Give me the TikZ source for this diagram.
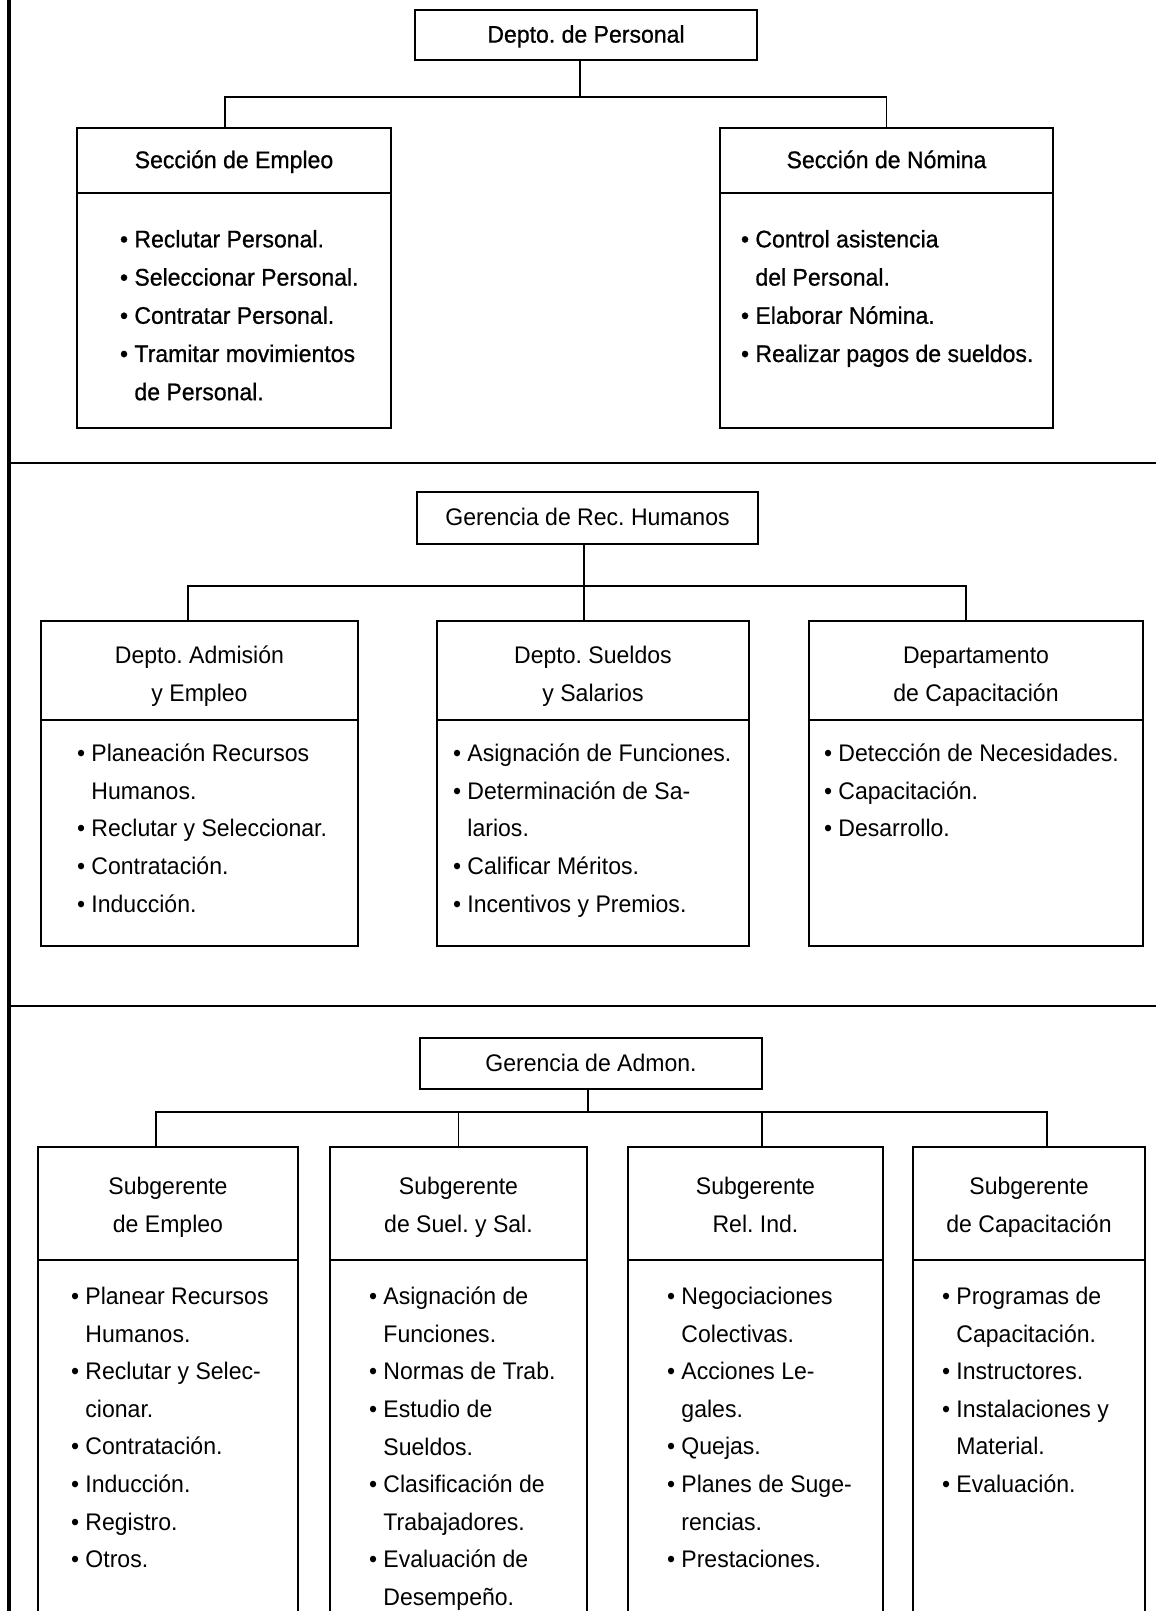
\documentclass[tikz,border=0pt]{standalone}
\usepackage{fontspec}
\setmainfont{Liberation Sans}[FakeStretch=0.96]
\newfontfamily\darkfont{Liberation Sans}[FakeStretch=0.96,FakeBold=0.8]
\usetikzlibrary{positioning}
\newcommand{\bul}{\textbullet\ }
\newcommand{\ind}{\hphantom{\textbullet\ }}
\newcommand{\twoline}[3]{\rule{0pt}{#1}#2\\#3\strut}
\frenchspacing

\begin{document}
\begin{tikzpicture}[x=0.5pt,y=-0.5pt,outer sep=0pt,
	head node/.style={draw,line width=1.2pt,align=center,inner sep=0pt,font=\fontsize{12}{18.8}\selectfont},
	body node/.style={draw,line width=1.2pt,inner sep=0pt},
	list node/.style={anchor=north west,align=left,inner sep=0pt,font=\fontsize{12}{18.8}\selectfont},
	dark/.style={font=\darkfont\fontsize{12}{19.1}\selectfont},
	link/.style={line width=0.7pt},
	rule/.style={line width=1.3pt}]
	\clip (0,0) rectangle (1156,1611);
	% frame
	\draw[rule,line width=2pt] (9,0) -- (9,1611);
	\draw[rule] (9,463) -- (1156,463);
	\draw[rule] (9,1006) -- (1156,1006);

	% Depto. de Personal
	\node[head node,dark,minimum width=171pt,minimum height=25pt] (dp) at (586,35) {\strut Depto. de Personal};
	\node[head node,dark,minimum width=157pt,minimum height=32.5pt] (se) at (234,160.5) {\strut Secci\'on de Empleo};
	\node[body node,minimum width=157pt,minimum height=117.5pt,below=0pt of se] (seb) {};
	\node[list node,dark] (sel) at ([shift={(43,37)}]seb.north west) {\bul Reclutar Personal.\\
		\bul Seleccionar Personal.\\
		\bul Contratar Personal.\\
		\bul Tramitar movimientos\\
		\ind de Personal.};
	\node[head node,dark,minimum width=166.5pt,minimum height=32.5pt] (sn) at (886.5,160.5) {\strut Secci\'on de N\'omina};
	\node[body node,minimum width=166.5pt,minimum height=117.5pt,below=0pt of sn] (snb) {};
	\node[list node,dark] (snl) at ([shift={(21,37)}]snb.north west) {\bul Control asistencia\\
		\ind del Personal.\\
		\bul Elaborar N\'omina.\\
		\bul Realizar pagos de sueldos.};
	\draw[link] ([xshift=-3pt]dp.south) -- ++(0,37) -| (sn.north);
	\draw[link] ([xshift=-3pt]dp.south) ++(0,37) -| ([xshift=-4.5pt]se.north);

	% Gerencia de Rec. Humanos
	\node[head node,minimum width=170.5pt,minimum height=26pt] (grh) at (587.5,518) {\strut Gerencia de Rec. Humanos};
	\node[head node,minimum width=158.5pt,minimum height=49.5pt] (da) at (199.5,670.5) {\twoline{17.4pt}{Depto. Admisi\'on}{y Empleo}};
	\node[body node,minimum width=158.5pt,minimum height=113pt,below=0pt of da] (dab) {};
	\node[list node] (dal) at ([shift={(36,24)}]dab.north west) {\bul Planeaci\'on Recursos\\
		\ind Humanos.\\
		\bul Reclutar y Seleccionar.\\
		\bul Contrataci\'on.\\
		\bul Inducci\'on.};
	\node[head node,minimum width=156pt,minimum height=49.5pt] (ds) at (593,670.5) {\twoline{17.4pt}{Depto. Sueldos}{y Salarios}};
	\node[body node,minimum width=156pt,minimum height=113pt,below=0pt of ds] (dsb) {};
	\node[list node] (dsl) at ([shift={(16,24)}]dsb.north west) {\bul Asignaci\'on de Funciones.\\
		\bul Determinaci\'on de Sa-\\
		\ind larios.\\
		\bul Calificar M\'eritos.\\
		\bul Incentivos y Premios.};
	\node[head node,minimum width=167pt,minimum height=49.5pt] (dc) at (976,670.5) {\twoline{17.4pt}{Departamento}{de Capacitaci\'on}};
	\node[body node,minimum width=167pt,minimum height=113pt,below=0pt of dc] (dcb) {};
	\node[list node] (dcl) at ([shift={(15,24)}]dcb.north west) {\bul Detecci\'on de Necesidades.\\
		\bul Capacitaci\'on.\\
		\bul Desarrollo.};
	\draw[link] ([xshift=-1.75pt]grh.south) -- ++(0,42) -| ([xshift=-5pt]dc.north);
	\draw[link] ([xshift=-1.75pt]grh.south) ++(0,42) -| ([xshift=-5.75pt]da.north);
	\draw[link] ([xshift=-1.75pt]grh.south) ++(0,42) -| ([xshift=-4.5pt]ds.north);

	% Gerencia de Admon.
	\node[head node,minimum width=171pt,minimum height=25.5pt] (ga) at (591,1063.5) {\strut Gerencia de Admon.};
	\node[head node,minimum width=130pt,minimum height=56.5pt] (s1) at (168,1203.5) {\twoline{15.8pt}{Subgerente}{de Empleo}};
	\node[body node,minimum width=130pt,minimum height=180pt,below=0pt of s1] (s1b) {};
	\node[list node] (s1l) at ([shift={(33,27)}]s1b.north west) {\bul Planear Recursos\\
		\ind Humanos.\\
		\bul Reclutar y Selec-\\
		\ind cionar.\\
		\bul Contrataci\'on.\\
		\bul Inducci\'on.\\
		\bul Registro.\\
		\bul Otros.};
	\node[head node,minimum width=128.5pt,minimum height=56.5pt] (s2) at (458.5,1203.5) {\twoline{15.8pt}{Subgerente}{de Suel. y Sal.}};
	\node[body node,minimum width=128.5pt,minimum height=180pt,below=0pt of s2] (s2b) {};
	\node[list node] (s2l) at ([shift={(39,27)}]s2b.north west) {\bul Asignaci\'on de\\
		\ind Funciones.\\
		\bul Normas de Trab.\\
		\bul Estudio de\\
		\ind Sueldos.\\
		\bul Clasificaci\'on de\\
		\ind Trabajadores.\\
		\bul Evaluaci\'on de\\
		\ind Desempe\~no.};
	\node[head node,minimum width=127.5pt,minimum height=56.5pt] (s3) at (755.5,1203.5) {\twoline{15.8pt}{Subgerente}{Rel. Ind.}};
	\node[body node,minimum width=127.5pt,minimum height=180pt,below=0pt of s3] (s3b) {};
	\node[list node] (s3l) at ([shift={(39,27)}]s3b.north west) {\bul Negociaciones\\
		\ind Colectivas.\\
		\bul Acciones Le-\\
		\ind gales.\\
		\bul Quejas.\\
		\bul Planes de Suge-\\
		\ind rencias.\\
		\bul Prestaciones.};
	\node[head node,minimum width=116pt,minimum height=56.5pt] (s4) at (1029,1203.5) {\twoline{15.8pt}{Subgerente}{de Capacitaci\'on}};
	\node[body node,minimum width=116pt,minimum height=180pt,below=0pt of s4] (s4b) {};
	\node[list node] (s4l) at ([shift={(29,27)}]s4b.north west) {\bul Programas de\\
		\ind Capacitaci\'on.\\
		\bul Instructores.\\
		\bul Instalaciones y\\
		\ind Material.\\
		\bul Evaluaci\'on.};
	\draw[link] ([xshift=-1.5pt]ga.south) -- ++(0,23) -| ([xshift=9pt]s4.north);
	\draw[link] ([xshift=-1.5pt]ga.south) ++(0,23) -| ([xshift=-6pt]s1.north);
	\draw[link] ([xshift=-1.5pt]ga.south) ++(0,23) -| (s2.north);
	\draw[link] ([xshift=-1.5pt]ga.south) ++(0,23) -| ([xshift=3.25pt]s3.north);
\end{tikzpicture}
\end{document}
